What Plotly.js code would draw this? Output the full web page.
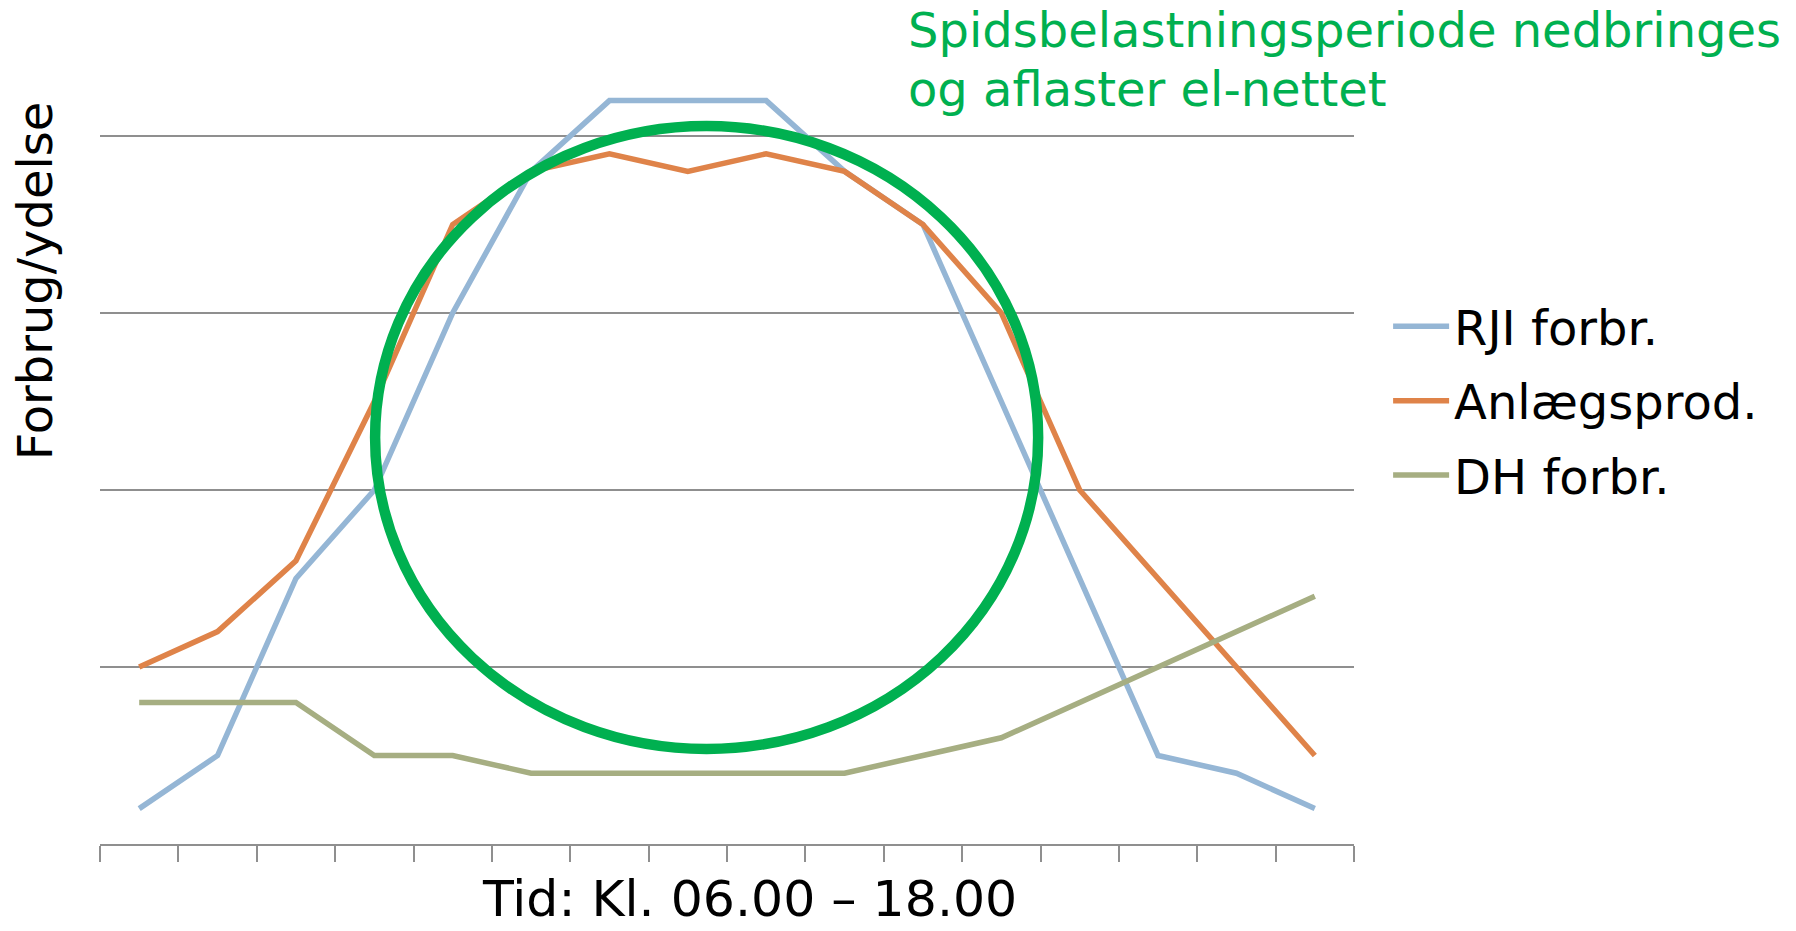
<!DOCTYPE html>
<html><head><meta charset="utf-8">
<script src="https://cdn.plot.ly/plotly-3.0.1.min.js"></script>
<style>html,body{margin:0;padding:0;background:#fff;}#chart{width:1796px;height:931px;}</style>
</head><body><div id="chart"></div>
<script>
// Time slots between kl. 06.00 and 18.00 (16 periods, no tick labels shown)
const categories = ['1','2','3','4','5','6','7','8','9','10','11','12','13','14','15','16'];
const rjiForbr   = [0.2, 0.5, 1.5, 2.0, 3.0, 3.8, 4.2, 4.2, 4.2, 3.8, 3.5, 2.5, 1.5, 0.5, 0.4, 0.2];
const anlaegProd = [1.0, 1.2, 1.6, 2.5, 3.5, 3.8, 3.9, 3.8, 3.9, 3.8, 3.5, 3.0, 2.0, 1.5, 1.0, 0.5];
const dhForbr    = [0.8, 0.8, 0.8, 0.5, 0.5, 0.4, 0.4, 0.4, 0.4, 0.4, 0.5, 0.6, 0.8, 1.0, 1.2, 1.4];
const seriesNames = ['RJI forbr.', 'Anlægsprod.', 'DH forbr.'];
const seriesColors = ['#95B6D5', '#DF8349', '#A6AE82'];

const FONT = 'DejaVu Sans, Verdana, sans-serif';
const allSeries = [rjiForbr, anlaegProd, dhForbr];
const traces = allSeries.map((vals, i) => ({
  type: 'scatter', mode: 'lines', x: categories, y: vals, name: seriesNames[i],
  legendgroup: 'g' + i,
  line: {color: seriesColors[i], width: 5.5}
}));

const layout = {
  width: 1796, height: 931,
  margin: {l: 100, r: 442, t: 20, b: 87},
  paper_bgcolor: '#fff', plot_bgcolor: '#fff',
  font: {family: FONT, size: 48, color: '#000'},
  showlegend: true,
  legend: {x: 1.0272, xanchor: 'left', y: 0.674, yanchor: 'top', bgcolor: 'rgba(0,0,0,0)',
           font: {family: FONT, size: 48, color: '#000'}, tracegroupgap: 9, itemwidth: 56},
  xaxis: {type: 'category', range: [-0.5, 15.5], showgrid: false, zeroline: false,
          showline: true, linecolor: '#8f8f8f', linewidth: 2,
          ticks: 'outside', tickson: 'boundaries', ticklen: 16, tickwidth: 2, tickcolor: '#8f8f8f',
          showticklabels: false, fixedrange: true},
  yaxis: {range: [0, 824/177], dtick: 1, tick0: 0, showgrid: true, gridcolor: '#8f8f8f', gridwidth: 2,
          zeroline: false, showline: false, showticklabels: false, ticks: '', fixedrange: true},
  shapes: [{type: 'circle', xref: 'x', yref: 'y', x0: 3.01, x1: 11.47, y0: 0.537, y1: 4.056,
            line: {color: '#00B050', width: 10.5}, layer: 'above'}],
  annotations: [
    {text: 'Forbrug/ydelse', xref: 'paper', yref: 'paper', x: -0.0518, y: 0.683, textangle: -90,
     showarrow: false, xanchor: 'center', yanchor: 'middle', font: {family: FONT, size: 48, color: '#000'}},
    {text: 'Tid: Kl. 06.00 – 18.00', xref: 'paper', yref: 'paper', x: 0.5183, y: -0.0667,
     showarrow: false, xanchor: 'center', yanchor: 'middle', font: {family: FONT, size: 50.5, color: '#000'}},
    {text: 'Spidsbelastningsperiode nedbringes', xref: 'paper', yref: 'paper', x: 0.6427, y: 0.9878,
     showarrow: false, xanchor: 'left', yanchor: 'middle', font: {family: FONT, size: 48, color: '#00B050'}},
    {text: 'og aflaster el-nettet', xref: 'paper', yref: 'paper', x: 0.6427, y: 0.9168,
     showarrow: false, xanchor: 'left', yanchor: 'middle', font: {family: FONT, size: 48, color: '#00B050'}}
  ]
};
Plotly.newPlot('chart', traces, layout, {displayModeBar: false, staticPlot: true});
</script></body></html>
